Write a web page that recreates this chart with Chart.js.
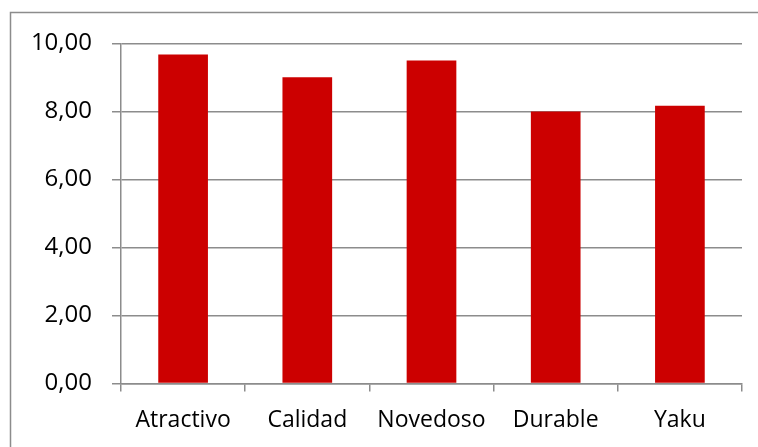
<!DOCTYPE html>
<html>
<head>
<meta charset="utf-8">
<script src="https://cdn.jsdelivr.net/npm/chart.js@4"></script>
<style>
  html, body { margin: 0; padding: 0; background: #ffffff; }
  #wrap { width: 758px; height: 447px; position: relative; }
</style>
</head>
<body>
<div id="wrap"><canvas id="c" width="758" height="447"></canvas></div>
<script>
const categories = ['Atractivo', 'Calidad', 'Novedoso', 'Durable', 'Yaku'];
const scores = [9.68, 9.01, 9.50, 8.00, 8.17];
const yTicks = [0, 2, 4, 6, 8, 10];

const GRID = '#8c8c8c';
const FONT = '"Open Sans", sans-serif';

// Gray frame edges along the top and left of the chart
const framePlugin = {
  id: 'frame',
  beforeDraw(chart) {
    const ctx = chart.ctx;
    ctx.save();
    ctx.fillStyle = '#ffffff';
    ctx.fillRect(0, 0, chart.width, chart.height);
    ctx.strokeStyle = GRID;
    ctx.lineWidth = 1.5;
    ctx.beginPath();
    ctx.moveTo(10.5, chart.height);
    ctx.lineTo(10.5, 12.5);
    ctx.lineTo(chart.width, 12.5);
    ctx.stroke();
    ctx.restore();
  }
};

new Chart(document.getElementById('c'), {
  type: 'bar',
  data: {
    labels: categories,
    datasets: [{
      data: scores,
      backgroundColor: '#cc0000',
      borderWidth: 0,
      barPercentage: 0.4,
      categoryPercentage: 1.0
    }]
  },
  options: {
    responsive: false,
    animation: false,
    devicePixelRatio: 1,
    layout: { padding: { left: 0, top: 43.5, right: 16, bottom: 0 } },
    plugins: { legend: { display: false }, tooltip: { enabled: false } },
    scales: {
      y: {
        min: 0,
        max: 10,
        afterBuildTicks(scale) { scale.ticks = yTicks.map(v => ({ value: v })); },
        afterFit(scale) { scale.width = 121; },
        ticks: {
          color: '#000000',
          font: { family: FONT, size: 24 },
          padding: 20,
          callback: v => v.toFixed(2).replace('.', ',')
        },
        grid: { color: GRID, lineWidth: 1.5, tickLength: 9, drawTicks: true },
        border: { display: true, color: GRID, width: 1.5 }
      },
      x: {
        afterFit(scale) { scale.height = 447 - 383.5; },
        ticks: {
          color: '#000000',
          font: { family: FONT, size: 23 },
          padding: 15
        },
        grid: { offset: true, drawOnChartArea: false, color: GRID, lineWidth: 1.5, tickLength: 8 },
        border: { display: true, color: GRID, width: 1.5 }
      }
    }
  },
  plugins: [framePlugin]
});
</script>
</body>
</html>
